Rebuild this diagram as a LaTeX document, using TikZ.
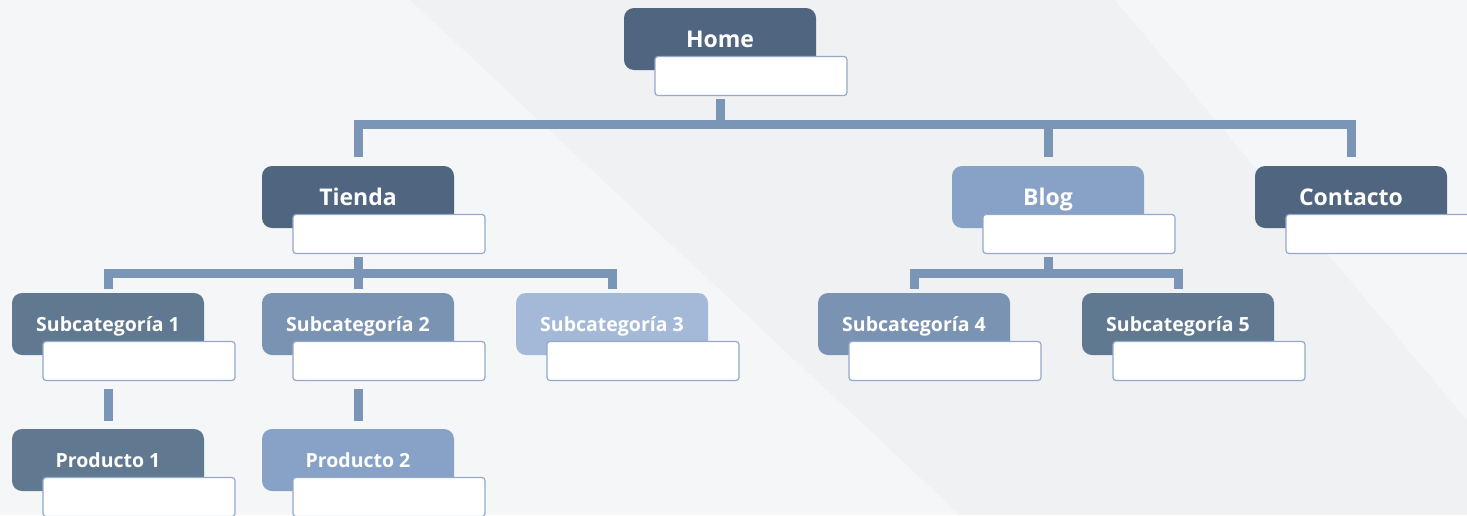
\documentclass[tikz,border=0pt]{standalone}
\usepackage{fontspec}
\setmainfont{Open Sans}
\usepackage{xcolor}
\usepackage{tikz}

\definecolor{slate}{HTML}{50657F}
\definecolor{steel}{HTML}{607990}
\definecolor{denim}{HTML}{7A93B2}
\definecolor{sky}{HTML}{87A2C6}
\definecolor{mist}{HTML}{A4B9D8}
\definecolor{linkblue}{HTML}{7A95B5}
\definecolor{noteline}{HTML}{94A9CB}
\definecolor{bgbase}{HTML}{F0F1F3}
\definecolor{bglight}{HTML}{F5F6F7}

\begin{document}
\begin{tikzpicture}
  [
    x=1pt,y=-1pt,
    page/.style={rectangle,rounded corners=10pt,fill=#1,text=white,font=\bfseries\fontsize{23}{26}\selectfont,minimum width=192pt,minimum height=62pt,inner sep=0pt,text height=16pt,text depth=0pt},
    subpage/.style={page=#1,font=\bfseries\fontsize{19.5}{23}\selectfont,text height=14pt},
    note/.style={rectangle,rounded corners=3pt,draw=noteline,fill=white,line width=1.2pt,minimum width=192pt,minimum height=39pt,inner sep=0pt},
    link/.style={draw=linkblue,line width=9pt}
  ]
  \useasboundingbox (0,0) rectangle (1467,515);
  \fill[bgbase] (0,0) rectangle (1467,515);
  \fill[bglight] (0,0) -- (410,0) -- (960,515) -- (0,515) -- cycle;
  \fill[bglight] (1115,0) -- (1467,0) -- (1467,420) -- cycle;

  \node[page=slate] at (720,39) (home) {Home};
  \node[note] at ([shift={(31,37)}]home.center) (home box) {};

  \node[page=slate] at (358,197) (tienda) {Tienda};
  \node[note] at ([shift={(31,37)}]tienda.center) (tienda box) {};
  \node[page=sky] at (1048,197) (blog) {Blog};
  \node[note] at ([shift={(31,37)}]blog.center) (blog box) {};
  \node[page=slate] at (1351,197) (contacto) {Contacto};
  \node[note] at ([shift={(31,37)}]contacto.center) (contacto box) {};

  \node[subpage=steel] at (108,324) (sub 1) {Subcategoría 1};
  \node[note] at ([shift={(31,37)}]sub 1.center) (sub 1 box) {};
  \node[subpage=denim] at (358,324) (sub 2) {Subcategoría 2};
  \node[note] at ([shift={(31,37)}]sub 2.center) (sub 2 box) {};
  \node[subpage=mist] at (612,324) (sub 3) {Subcategoría 3};
  \node[note] at ([shift={(31,37)}]sub 3.center) (sub 3 box) {};
  \node[subpage=denim] at (914,324) (sub 4) {Subcategoría 4};
  \node[note] at ([shift={(31,37)}]sub 4.center) (sub 4 box) {};
  \node[subpage=steel] at (1178,324) (sub 5) {Subcategoría 5};
  \node[note] at ([shift={(31,37)}]sub 5.center) (sub 5 box) {};

  \node[subpage=steel] at (108,460) (product 1) {Producto 1};
  \node[note] at ([shift={(31,37)}]product 1.center) (product 1 box) {};
  \node[subpage=sky] at (358,460) (product 2) {Producto 2};
  \node[note] at ([shift={(31,37)}]product 2.center) (product 2 box) {};

  % home to the first level
  \coordinate (top bar) at (720,124);
  \draw[link,shorten <=3pt] (home |- home box.south) -- (home |- top bar);
  \draw[link,shorten <=9pt,shorten >=9pt] (tienda.north) -- (tienda |- top bar) -- (contacto |- top bar) -- (contacto.north);
  \draw[link,shorten >=9pt] (blog |- top bar) -- (blog.north);

  % tienda
  \coordinate (shop bar) at (358,273);
  \draw[link,shorten <=3pt] (tienda |- tienda box.south) -- (shop bar);
  \draw[link,shorten <=4pt,shorten >=4pt] (sub 1.north) -- (sub 1 |- shop bar) -- (sub 3 |- shop bar) -- (sub 3.north);
  \draw[link,shorten >=4pt] (sub 2 |- shop bar) -- (sub 2.north);

  % blog
  \coordinate (blog bar) at (1048,273);
  \draw[link,shorten <=3pt] (blog |- blog box.south) -- (blog bar);
  \draw[link,shorten <=4pt,shorten >=4pt] (sub 4.north) -- (sub 4 |- blog bar) -- (sub 5 |- blog bar) -- (sub 5.north);

  % products
  \draw[link,shorten <=8pt,shorten >=8pt] (sub 1 |- sub 1 box.south) -- (product 1.north);
  \draw[link,shorten <=8pt,shorten >=8pt] (sub 2 |- sub 2 box.south) -- (product 2.north);
\end{tikzpicture}
\end{document}
